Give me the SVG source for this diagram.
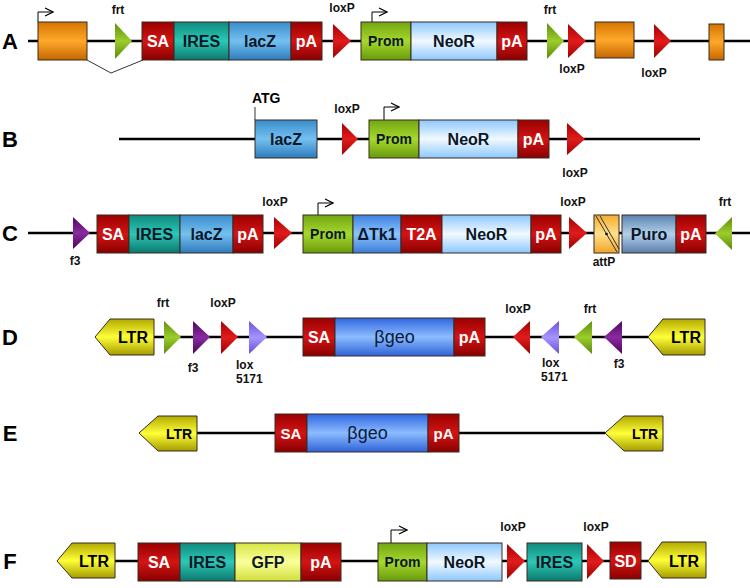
<svg xmlns="http://www.w3.org/2000/svg" width="750" height="588" viewBox="0 0 750 588">
<defs>
<linearGradient id="gRed" x1="0" y1="0" x2="0" y2="1"><stop offset="0" stop-color="#9a0000"/><stop offset="0.5" stop-color="#d31414"/><stop offset="1" stop-color="#8a0000"/></linearGradient>
<linearGradient id="gOrange" x1="0" y1="0" x2="0" y2="1"><stop offset="0" stop-color="#d47400"/><stop offset="0.5" stop-color="#ffa82a"/><stop offset="1" stop-color="#c46600"/></linearGradient>
<linearGradient id="gTeal" x1="0" y1="0" x2="0" y2="1"><stop offset="0" stop-color="#0f8a7e"/><stop offset="0.5" stop-color="#2cc8b6"/><stop offset="1" stop-color="#0b786d"/></linearGradient>
<linearGradient id="gLacZ" x1="0" y1="0" x2="0" y2="1"><stop offset="0" stop-color="#3a8ccc"/><stop offset="0.5" stop-color="#74c0f0"/><stop offset="1" stop-color="#2d7bbd"/></linearGradient>
<linearGradient id="gNeo" x1="0" y1="0" x2="0" y2="1"><stop offset="0" stop-color="#8cc8ff"/><stop offset="0.5" stop-color="#f2f9ff"/><stop offset="1" stop-color="#8cc8ff"/></linearGradient>
<linearGradient id="gProm" x1="0" y1="0" x2="0" y2="1"><stop offset="0" stop-color="#72a612"/><stop offset="0.5" stop-color="#a6d82c"/><stop offset="1" stop-color="#689a0c"/></linearGradient>
<linearGradient id="gBgeo" x1="0" y1="0" x2="0" y2="1"><stop offset="0" stop-color="#2f66e0"/><stop offset="0.5" stop-color="#8cbcff"/><stop offset="1" stop-color="#2f62d8"/></linearGradient>
<linearGradient id="gTk" x1="0" y1="0" x2="0" y2="1"><stop offset="0" stop-color="#3d82de"/><stop offset="0.5" stop-color="#8cc2ff"/><stop offset="1" stop-color="#3a7cd6"/></linearGradient>
<linearGradient id="gPuro" x1="0" y1="0" x2="0" y2="1"><stop offset="0" stop-color="#5a82b0"/><stop offset="0.5" stop-color="#b4d0ea"/><stop offset="1" stop-color="#5a7eaa"/></linearGradient>
<linearGradient id="gGFP" x1="0" y1="0" x2="0" y2="1"><stop offset="0" stop-color="#d6e640"/><stop offset="0.5" stop-color="#fbff9c"/><stop offset="1" stop-color="#d0e03a"/></linearGradient>
<linearGradient id="gAtt" x1="0" y1="0" x2="0" y2="1"><stop offset="0" stop-color="#f4ac2c"/><stop offset="0.5" stop-color="#ffe08c"/><stop offset="1" stop-color="#f0a428"/></linearGradient>
<linearGradient id="gLTR" x1="0" y1="0" x2="0" y2="1"><stop offset="0" stop-color="#b2aa00"/><stop offset="0.5" stop-color="#ffff38"/><stop offset="1" stop-color="#a49c00"/></linearGradient>
<linearGradient id="tRed" x1="0" y1="0" x2="0" y2="1"><stop offset="0" stop-color="#a80000"/><stop offset="0.5" stop-color="#e01c1c"/><stop offset="1" stop-color="#a00000"/></linearGradient>
<linearGradient id="tGreen" x1="0" y1="0" x2="0" y2="1"><stop offset="0" stop-color="#5e900c"/><stop offset="0.5" stop-color="#9ccc2c"/><stop offset="1" stop-color="#5a8a0a"/></linearGradient>
<linearGradient id="tPurple" x1="0" y1="0" x2="0" y2="1"><stop offset="0" stop-color="#4e0860"/><stop offset="0.5" stop-color="#8a2aa0"/><stop offset="1" stop-color="#4a0658"/></linearGradient>
<linearGradient id="tLav" x1="0" y1="0" x2="0" y2="1"><stop offset="0" stop-color="#6a52dc"/><stop offset="0.5" stop-color="#a894ff"/><stop offset="1" stop-color="#6650d4"/></linearGradient>
<marker id="arr" viewBox="0 0 10 10" refX="9" refY="5" markerWidth="10" markerHeight="10" markerUnits="userSpaceOnUse" orient="auto"><path d="M1,1 L9,5 L1,9" fill="none" stroke="#000" stroke-width="1.2"/></marker>
</defs>
<style>
text{font-family:"Liberation Sans",Arial,Helvetica,sans-serif;font-weight:bold;text-anchor:middle}
.row{font-size:22px;fill:#000}
.sm{font-size:12px;fill:#111}
.wt{font-size:16px;fill:#fff}
.dk{font-size:16px;fill:#0b1626}
.pr{font-size:14px;fill:#0b1626}
.bg{font-size:18px;fill:#0b1a3a;font-weight:normal}
.ltr{font-size:16px;fill:#000}
.box{stroke:#3a2a20;stroke-width:1}
.red{fill:url(#gRed)}.org{fill:url(#gOrange)}.teal{fill:url(#gTeal)}.lacz{fill:url(#gLacZ)}.neo{fill:url(#gNeo)}.prom{fill:url(#gProm)}.bgeo{fill:url(#gBgeo)}.tk{fill:url(#gTk)}.puro{fill:url(#gPuro)}.gfp{fill:url(#gGFP)}.att{fill:url(#gAtt)}.ltrf{fill:url(#gLTR)}
.tr{fill:url(#tRed)}.tg{fill:url(#tGreen)}.tp{fill:url(#tPurple)}.tl{fill:url(#tLav)}
.bb{stroke:#000;stroke-width:2.5;fill:none}
.pa{stroke:#000;stroke-width:1;fill:none;marker-end:url(#arr)}
.thin{stroke:#333;stroke-width:1;fill:none}
</style>
<rect width="750" height="588" fill="#fff"/>

<g id="connectors">
<line class="bb" x1="28" y1="41" x2="750" y2="41"/>
<polyline class="thin" points="87,60 111,73 143,60"/>
<line class="bb" x1="119" y1="139" x2="700" y2="139"/>
<line class="bb" x1="28" y1="233" x2="750" y2="233"/>
<line class="bb" x1="154" y1="337" x2="648" y2="337"/>
<line class="bb" x1="197" y1="433" x2="605" y2="433"/>
<line class="bb" x1="115" y1="561" x2="648" y2="561"/>
<path class="pa" d="M38,22 V12 H53"/>
<path class="pa" d="M372,22 V12 H387"/>
<path class="thin" d="M255,120 V107"/>
<path class="pa" d="M384,120 V107 H399"/>
<path class="pa" d="M318,215 V203 H333"/>
<path class="pa" d="M391,543 V530 H407"/>
</g>

<g id="rowlabels">
<text class="row" x="10" y="49">A</text>
<text class="row" x="10" y="147">B</text>
<text class="row" x="10" y="241">C</text>
<text class="row" x="10" y="345">D</text>
<text class="row" x="10" y="441">E</text>
<text class="row" x="10" y="569">F</text>
</g>

<!-- Row A -->
<g id="A_exon1"><rect class="box org" x="38" y="22" width="49" height="38"/></g>
<g id="A_frt1"><polygon class="tg" points="115,23 115,59 132,41"/><text class="sm" x="118" y="14">frt</text></g>
<g id="A_SA"><rect class="box red" x="142" y="22" width="32" height="38"/><text class="wt" x="158" y="47">SA</text></g>
<g id="A_IRES"><rect class="box teal" x="174" y="22" width="55" height="38"/><text class="dk" x="201.5" y="47">IRES</text></g>
<g id="A_lacZ"><rect class="box lacz" x="229" y="22" width="62" height="38"/><text class="dk" x="260" y="47">lacZ</text></g>
<g id="A_pA1"><rect class="box red" x="291" y="22" width="31" height="38"/><text class="wt" x="306.5" y="47">pA</text></g>
<g id="A_loxP1"><polygon class="tr" points="333,24 333,58 351,41"/><text class="sm" x="342" y="12">loxP</text></g>
<g id="A_Prom"><rect class="box prom" x="361" y="22" width="50" height="38"/><text class="pr" x="386" y="46">Prom</text></g>
<g id="A_NeoR"><rect class="box neo" x="411" y="22" width="86" height="38"/><text class="dk" x="454" y="47">NeoR</text></g>
<g id="A_pA2"><rect class="box red" x="497" y="22" width="30" height="38"/><text class="wt" x="512" y="47">pA</text></g>
<g id="A_frt2"><polygon class="tg" points="547,23 547,59 564,41"/><text class="sm" x="550" y="14">frt</text></g>
<g id="A_loxP2"><polygon class="tr" points="568,24 568,58 586,41"/><text class="sm" x="572" y="73">loxP</text></g>
<g id="A_exon2"><rect class="box org" x="595" y="22" width="39" height="36"/></g>
<g id="A_loxP3"><polygon class="tr" points="654,24 654,58 671,41"/><text class="sm" x="654" y="77">loxP</text></g>
<g id="A_exon3"><rect class="box org" x="709" y="24" width="15" height="36"/></g>

<!-- Row B -->
<g id="B_lacZ"><rect class="box lacz" x="255" y="120" width="62" height="38"/><text class="dk" x="286" y="145">lacZ</text><text class="pr" x="252" y="103" style="text-anchor:start;fill:#000">ATG</text></g>
<g id="B_loxP1"><polygon class="tr" points="342,123 342,155 358,139"/><text class="sm" x="347" y="113">loxP</text></g>
<g id="B_Prom"><rect class="box prom" x="369" y="120" width="50" height="38"/><text class="pr" x="394" y="144">Prom</text></g>
<g id="B_NeoR"><rect class="box neo" x="419" y="120" width="99" height="38"/><text class="dk" x="468.5" y="145">NeoR</text></g>
<g id="B_pA"><rect class="box red" x="518" y="120" width="31" height="38"/><text class="wt" x="533.5" y="145">pA</text></g>
<g id="B_loxP2"><polygon class="tr" points="567,123 567,155 585,139"/><text class="sm" x="575" y="177">loxP</text></g>

<!-- Row C -->
<g id="C_f3"><polygon class="tp" points="73,217 73,249 90,233"/><text class="sm" x="75" y="265">f3</text></g>
<g id="C_SA"><rect class="box red" x="97" y="215" width="32" height="38"/><text class="wt" x="113" y="240">SA</text></g>
<g id="C_IRES"><rect class="box teal" x="129" y="215" width="51" height="38"/><text class="dk" x="154.5" y="240">IRES</text></g>
<g id="C_lacZ"><rect class="box lacz" x="180" y="215" width="53" height="38"/><text class="dk" x="206.5" y="240">lacZ</text></g>
<g id="C_pA1"><rect class="box red" x="233" y="215" width="30" height="38"/><text class="wt" x="248" y="240">pA</text></g>
<g id="C_loxP1"><polygon class="tr" points="274,217 274,249 292,233"/><text class="sm" x="275" y="206">loxP</text></g>
<g id="C_Prom"><rect class="box prom" x="303" y="215" width="50" height="38"/><text class="pr" x="328" y="239">Prom</text></g>
<g id="C_Tk1"><rect class="box tk" x="353" y="215" width="48" height="38"/><text class="dk" x="377" y="240">ΔTk1</text></g>
<g id="C_T2A"><rect class="box red" x="401" y="215" width="41" height="38"/><text class="wt" x="421.5" y="240">T2A</text></g>
<g id="C_NeoR"><rect class="box neo" x="442" y="215" width="89" height="38"/><text class="dk" x="486.5" y="240">NeoR</text></g>
<g id="C_pA2"><rect class="box red" x="531" y="215" width="30" height="38"/><text class="wt" x="546" y="240">pA</text></g>
<g id="C_loxP2"><polygon class="tr" points="569,217 569,249 587,233"/><text class="sm" x="573" y="206">loxP</text></g>
<g id="C_attP"><rect class="box att" x="594" y="215" width="25" height="38"/><line x1="596" y1="216" x2="617" y2="252" stroke="#333" stroke-width="1"/><line x1="600" y1="216" x2="619" y2="249" stroke="#333" stroke-width="1"/><circle cx="606.5" cy="234" r="1.3" fill="#000"/><text class="sm" x="604" y="266">attP</text></g>
<g id="C_Puro"><rect class="box puro" x="622" y="215" width="54" height="38"/><text class="dk" x="649" y="240">Puro</text></g>
<g id="C_pA3"><rect class="box red" x="676" y="215" width="30" height="38"/><text class="wt" x="691" y="240">pA</text></g>
<g id="C_frt"><polygon class="tg" points="732,217 732,250 715,233.5"/><text class="sm" x="725" y="206">frt</text></g>

<!-- Row D -->
<g id="D_LTR1"><polygon class="box ltrf" points="95,337 110,319 154,319 154,355 110,355"/><text class="ltr" x="133" y="343">LTR</text></g>
<g id="D_frt1"><polygon class="tg" points="164,321 164,354 181,337"/><text class="sm" x="163" y="307">frt</text></g>
<g id="D_f31"><polygon class="tp" points="193,321 193,354 210,337"/><text class="sm" x="193" y="372">f3</text></g>
<g id="D_loxP1"><polygon class="tr" points="221,321 221,354 238,337"/><text class="sm" x="223" y="307">loxP</text></g>
<g id="D_lox51711"><polygon class="tl" points="249,321 249,354 267,337"/><text class="sm" x="236" y="369" style="text-anchor:start">lox</text><text class="sm" x="236" y="383" style="text-anchor:start">5171</text></g>
<g id="D_SA"><rect class="box red" x="303" y="318" width="32" height="38"/><text class="wt" x="319" y="343">SA</text></g>
<g id="D_bgeo"><rect class="box bgeo" x="335" y="318" width="119" height="38"/><text class="bg" x="394.5" y="343">βgeo</text></g>
<g id="D_pA"><rect class="box red" x="454" y="318" width="31" height="38"/><text class="wt" x="469.5" y="343">pA</text></g>
<g id="D_loxP2"><polygon class="tr" points="530,321 530,354 513,337"/><text class="sm" x="518" y="313">loxP</text></g>
<g id="D_lox51712"><polygon class="tl" points="559,321 559,354 541,337"/><text class="sm" x="542" y="367" style="text-anchor:start">lox</text><text class="sm" x="541" y="381" style="text-anchor:start">5171</text></g>
<g id="D_frt2"><polygon class="tg" points="592,321 592,354 574,337"/><text class="sm" x="590" y="313">frt</text></g>
<g id="D_f32"><polygon class="tp" points="622,321 622,354 604,337"/><text class="sm" x="619" y="368">f3</text></g>
<g id="D_LTR2"><polygon class="box ltrf" points="648,337 663,319 705,319 705,355 663,355"/><text class="ltr" x="686" y="343">LTR</text></g>

<!-- Row E -->
<g id="E_LTR1"><polygon class="box ltrf" points="139,433 158,416 197,416 197,451 158,451"/><text class="ltr" x="179" y="439" style="font-size:14px">LTR</text></g>
<g id="E_SA"><rect class="box red" x="275" y="414" width="32" height="38"/><text class="wt" x="291" y="439" style="font-size:15px">SA</text></g>
<g id="E_bgeo"><rect class="box bgeo" x="307" y="414" width="121" height="38"/><text class="bg" x="367.5" y="439">βgeo</text></g>
<g id="E_pA"><rect class="box red" x="428" y="414" width="31" height="38"/><text class="wt" x="443.5" y="439" style="font-size:15px">pA</text></g>
<g id="E_LTR2"><polygon class="box ltrf" points="605,433 624,416 663,416 663,451 624,451"/><text class="ltr" x="645" y="439" style="font-size:14px">LTR</text></g>

<!-- Row F -->
<g id="F_LTR1"><polygon class="box ltrf" points="57,561 72,543 115,543 115,578 72,578"/><text class="ltr" x="94" y="567">LTR</text></g>
<g id="F_SA"><rect class="box red" x="138" y="543" width="42" height="38"/><text class="wt" x="159" y="568">SA</text></g>
<g id="F_IRES"><rect class="box teal" x="180" y="543" width="55" height="38"/><text class="dk" x="207.5" y="568">IRES</text></g>
<g id="F_GFP"><rect class="box gfp" x="235" y="543" width="66" height="38"/><text class="dk" x="268" y="568">GFP</text></g>
<g id="F_pA"><rect class="box red" x="301" y="543" width="40" height="38"/><text class="wt" x="321" y="568">pA</text></g>
<g id="F_Prom"><rect class="box prom" x="378" y="543" width="49" height="38"/><text class="pr" x="402.5" y="567">Prom</text></g>
<g id="F_NeoR"><rect class="box neo" x="427" y="543" width="75" height="38"/><text class="dk" x="464.5" y="568">NeoR</text></g>
<g id="F_loxP1"><polygon class="tr" points="507,544 507,579 525,561"/><text class="sm" x="513" y="531">loxP</text></g>
<g id="F_IRES2"><rect class="box teal" x="527" y="543" width="55" height="38"/><text class="dk" x="554.5" y="568">IRES</text></g>
<g id="F_loxP2"><polygon class="tr" points="587,544 587,579 604,561"/><text class="sm" x="596" y="531">loxP</text></g>
<g id="F_SD"><rect class="box red" x="610" y="542" width="31" height="37"/><text class="wt" x="625.5" y="567">SD</text></g>
<g id="F_LTR2"><polygon class="box ltrf" points="648,561 662,542 706,542 706,578 662,578"/><text class="ltr" x="684" y="567">LTR</text></g>
</svg>
